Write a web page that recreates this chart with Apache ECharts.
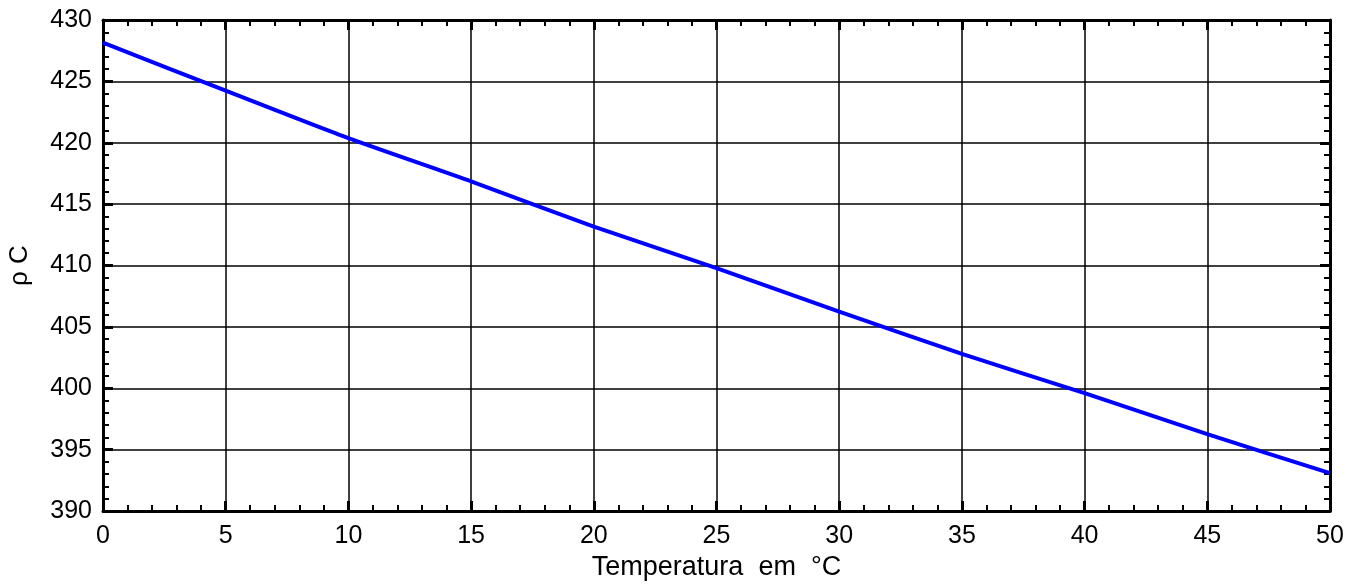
<!DOCTYPE html>
<html>
<head>
<meta charset="utf-8">
<script src="https://cdn.jsdelivr.net/npm/echarts@6/dist/echarts.min.js"></script>
<style>
html,body{margin:0;padding:0;background:#fff;}
#chart{width:1364px;height:587px;}
</style>
</head>
<body>
<div id="chart"></div>
<script>
const temperatures = [0, 5, 10, 15, 20, 25, 30, 35, 40, 45, 50];
const rhoC = [428.15, 424.24, 420.37, 416.85, 413.17, 409.78, 406.25, 402.8, 399.6, 396.26, 393.09];
const xTitle = 'Temperatura  em  °C';
const yTitle = 'ρ C';

const FONT = '"Liberation Sans", Arial, Helvetica, sans-serif';
const chart = echarts.init(document.getElementById('chart'), null, {renderer: 'canvas'});

function baseAxis(extra) {
  return Object.assign({
    type: 'value',
    axisLine: {show: true, onZero: false, lineStyle: {color: '#000', width: 3}},
    axisTick: {show: true, inside: true, length: 10, lineStyle: {color: '#000', width: 3}},
    minorTick: {show: true, splitNumber: 5, length: 6, lineStyle: {color: '#000', width: 2}},
    splitLine: {show: false},
    minorSplitLine: {show: false}
  }, extra);
}

const option = {
  backgroundColor: '#fff',
  animation: false,
  grid: {left: 103, right: 34, top: 20, bottom: 76, containLabel: false, outerBoundsMode: 'none'},
  xAxis: [
    baseAxis({
      position: 'bottom', min: 0, max: 50, interval: 5,
      name: xTitle, nameLocation: 'middle', nameGap: 42,
      nameTextStyle: {fontFamily: FONT, fontSize: 27, color: '#000'},
      axisLabel: {show: true, margin: 13, fontFamily: FONT, fontSize: 25, color: '#000'},
      splitLine: {show: true, lineStyle: {color: '#000', width: 1.5}}
    }),
    baseAxis({position: 'top', min: 0, max: 50, interval: 5, axisLabel: {show: false}})
  ],
  yAxis: [
    baseAxis({
      position: 'left', min: 390, max: 430, interval: 5,
      name: yTitle, nameLocation: 'middle', nameGap: 70, nameRotate: 90,
      nameTextStyle: {fontFamily: FONT, fontSize: 26, color: '#000'},
      axisLabel: {show: true, margin: 11, fontFamily: FONT, fontSize: 25, color: '#000'},
      splitLine: {show: true, lineStyle: {color: '#000', width: 1.5}}
    }),
    baseAxis({position: 'right', min: 390, max: 430, interval: 5, axisLabel: {show: false}})
  ],
  series: [{
    type: 'line',
    xAxisIndex: 0, yAxisIndex: 0,
    data: temperatures.map((t, i) => [t, rhoC[i]]),
    showSymbol: false,
    smooth: 0.2,
    lineStyle: {color: '#0000ff', width: 4},
    z: 5
  }]
};
chart.setOption(option);
</script>
</body>
</html>
